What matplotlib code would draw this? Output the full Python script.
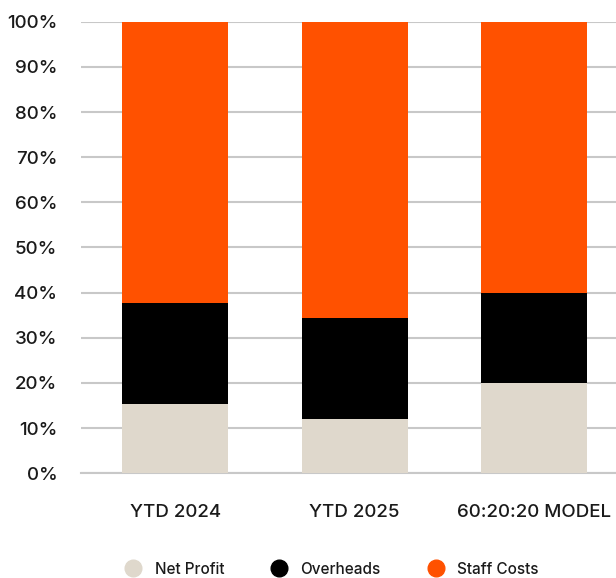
import matplotlib
matplotlib.use("Agg")
import matplotlib.pyplot as plt
from matplotlib.lines import Line2D

categories = ["YTD 2024", "YTD 2025", "60:20:20 MODEL"]
net_profit = [15.3, 12.1, 20.0]
overheads = [22.4, 22.3, 20.0]
staff_costs = [62.3, 65.6, 60.0]
series_names = ["Net Profit", "Overheads", "Staff Costs"]
colors = ["#DFD8CC", "#000000", "#FF5100"]
yticks = list(range(0, 101, 10))

plt.rcParams['font.family'] = ['Inter', 'DejaVu Sans']

fig = plt.figure(figsize=(6.16, 5.78), dpi=100)
ax = fig.add_axes([81/616, 1 - 473.3/578, (624 - 81)/616, (473.3 - 21.7)/578])

x = list(range(len(categories)))
bottoms = [0, 0, 0]
for vals, c, name in zip([net_profit, overheads, staff_costs], colors, series_names):
    ax.bar(x, vals, bottom=bottoms, width=0.59, color=c, label=name, zorder=3)
    bottoms = [b + v for b, v in zip(bottoms, vals)]

ax.set_xlim(-0.524, 2.50)
ax.set_ylim(0, 100)
ax.set_yticks(yticks)
ax.set_yticklabels([f"{t}%" for t in yticks], fontsize=13.5, color="#1a1a1a", fontweight='medium')
ax.set_xticks(x)
ax.set_xticklabels(categories, fontsize=13.5, color="#1a1a1a", fontweight='medium')
ax.tick_params(axis='y', length=0, pad=17)
ax.tick_params(axis='x', length=0, pad=22)
ax.yaxis.grid(True, color="#c8c8c8", linewidth=1.5, zorder=0)
ax.set_axisbelow(True)
for s in ["top", "right", "left"]:
    ax.spines[s].set_visible(False)
ax.spines["bottom"].set_color("#c8c8c8")
ax.spines["bottom"].set_linewidth(1.5)

handles = [Line2D([0], [0], marker='o', linestyle='', markersize=12,
                  markerfacecolor=c, markeredgecolor=c) for c in colors]
fig.legend(handles, series_names, loc='center', ncol=3, frameon=False,
           bbox_to_anchor=(0.533, 1 - 569/578),
           prop={'size': 11, 'weight': 'medium'},
           handletextpad=0.4, columnspacing=2.6, labelcolor="#1a1a1a")

fig.savefig("out.png", dpi=100)
